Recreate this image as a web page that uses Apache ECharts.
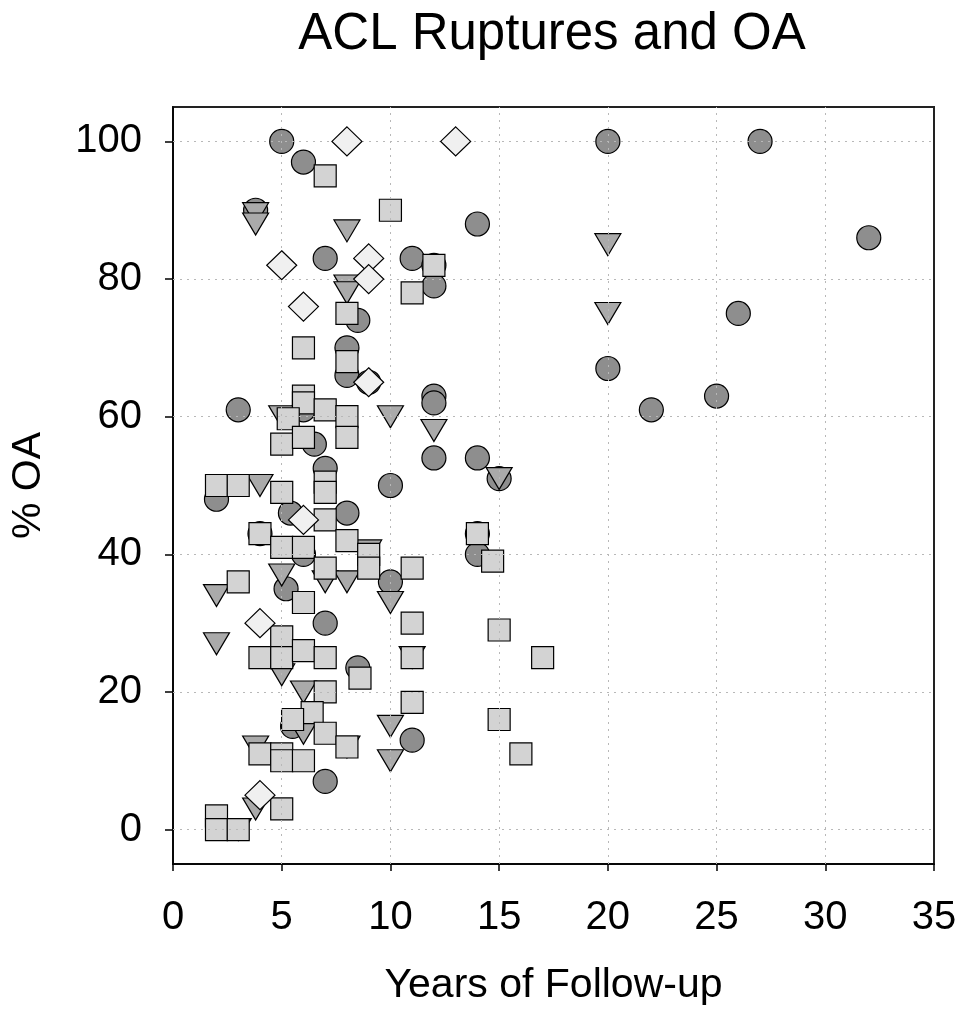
<!DOCTYPE html>
<html>
<head>
<meta charset="utf-8">
<script src="https://cdn.jsdelivr.net/npm/echarts@6/dist/echarts.min.js"></script>
<style>
html,body{margin:0;padding:0;background:#fff;}
#chart{width:964px;height:1012px;}
</style>
</head>
<body>
<div id="chart"></div>
<script>
// tick values
var xTicks=[0,5,10,15,20,25,30,35];
var yTicks=[0,20,40,60,80,100];
var xGrid=[5,10,15,20,25,30];

// circles
var circX=[5,6,3.8,7,8.5,11,12,12,14,20,27,32,26,20,22,25,3,8,8,6.5,6,12,12,12,14,10,15,7,8,5.4,2,4,6,14,14,10,5.2,7,8.5,5.5,7,11,9];
var circY=[100,97,90,83,74,83,82,79,88,100,100,86,75,67,61,63,61,70,66,56,61,63,62,54,54,50,51,52.5,46,46,48,43,40,43,40,36,35,30,23.5,15,7,13,65];

// inverted triangles
var triX=[3.8,3.8,8,8,8,10,12,15,20,20,5,4,2,2,5,7,8,5,6,6,3.8,3.8,3,8,9,10,10,10,11];
var triY=[89.5,88,87,79,78,60,58,51,85,75,60,50,34,27,37,36,36,22.5,20,14,12,3,0,12,40.5,33,15,10,25];

// squares
var sqX=[7,10,11,12,8,6,8,6,6,7,8,8,5,5.3,6,2,3,5,7,7,7,8,4,5,6,7,9,9,11,3,6,5,4,5,6,7,8.6,7,6.4,5.5,7,8,4,5,5,6,5,2,2,3,11,11,11,15,15,16,17,14.7,14];
var sqY=[95,90,78,82,75,70,68,63,62,61,60,57,56,59.7,57,50,50,49,50.5,49,45,42,43,41,41,38,40,38,38,36,33,28,25,25,26,25,22,20,17,16,14,12,11,11,10,10,3,2,0,0,30,25,18.5,29,16,11,25,39,43];

// diamonds
var diaX=[8,13,5,9,9,6,9,6,4,4];
var diaY=[100,100,82,83,80,76,65,45,30,5];

function pairs(xs,ys){
  var out=[];
  for(var i=0;i<xs.length;i++){ out.push([xs[i],ys[i]]); }
  return out;
}

var font='"Liberation Sans", Arial, sans-serif';

function markStyle(fill){
  return {color:fill,borderColor:'#000',borderWidth:1.2,opacity:1};
}

var chart=echarts.init(document.getElementById('chart'));
chart.setOption({
  animation:false,
  backgroundColor:'#fff',
  title:{
    text:'ACL Ruptures and OA',
    left:547,
    top:4,
    textAlign:'center',
    textStyle:{fontFamily:font,fontSize:51,fontWeight:'normal',color:'#000'}
  },
  grid:{left:170,right:30,top:107,bottom:148,show:true,borderColor:'#222',borderWidth:2,backgroundColor:'transparent'},
  xAxis:{
    type:'value',min:0,max:35,interval:5,
    name:'Years of Follow-up',nameLocation:'middle',nameGap:101,
    nameTextStyle:{fontFamily:font,fontSize:41,color:'#000'},
    axisLine:{show:true,onZero:false,lineStyle:{color:'#000',width:1.5}},
    axisTick:{show:true,inside:false,length:7,lineStyle:{color:'#000',width:1.5}},
    axisLabel:{fontFamily:font,fontSize:40,color:'#000',margin:34},
    splitLine:{show:false}
  },
  yAxis:{
    type:'value',min:-5,max:105,
    name:'% OA',nameLocation:'middle',nameGap:124,
    nameTextStyle:{fontFamily:font,fontSize:41,color:'#000'},
    axisLine:{show:true,onZero:false,lineStyle:{color:'#000',width:1.5}},
    axisTick:{show:true,inside:false,length:8,customValues:yTicks,lineStyle:{color:'#000',width:1.5}},
    axisLabel:{fontFamily:font,fontSize:40,color:'#000',margin:31,customValues:yTicks},
    splitLine:{show:false}
  },
  series:[
    {
      // grid lines only
      type:'scatter',data:[],z:1,silent:true,
      markLine:{
        silent:true,symbol:['none','none'],label:{show:false},animation:false,
        lineStyle:{type:[2,5],color:'#b8b8b8',width:1},
        emphasis:{disabled:true},
        data:yTicks.map(function(v){return {yAxis:v};}).concat(xGrid.map(function(v){return {xAxis:v};}))
      }
    },
    {type:'scatter',z:2,symbol:'circle',symbolSize:24,data:pairs(circX,circY),
      itemStyle:markStyle('#8e8e8e')},
    {type:'scatter',z:3,symbol:'triangle',symbolRotate:180,symbolSize:[26,22],data:pairs(triX,triY),
      itemStyle:markStyle('#aaaaaa')},
    {type:'scatter',z:4,symbol:'rect',symbolSize:22,data:pairs(sqX,sqY),
      itemStyle:markStyle('#d3d3d3')},
    {type:'scatter',z:5,symbol:'diamond',symbolSize:[30,29],data:pairs(diaX,diaY),
      itemStyle:markStyle('#f0f0f0')}
  ]
});
</script>
</body>
</html>
